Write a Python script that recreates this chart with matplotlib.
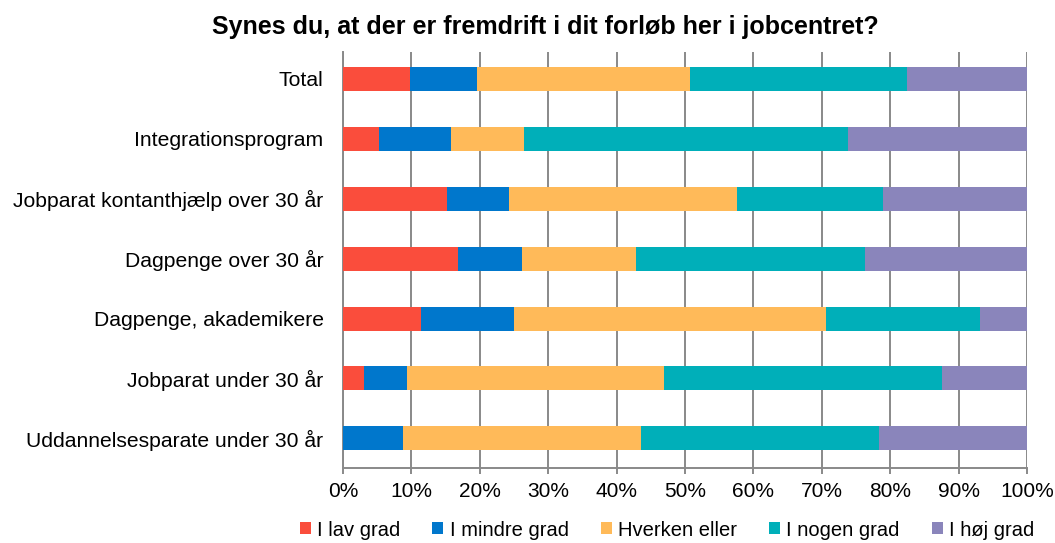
import matplotlib
matplotlib.use("Agg")
import matplotlib.pyplot as plt
from matplotlib.ticker import PercentFormatter
import numpy as np

plt.rcParams['font.family'] = ['Liberation Sans', 'DejaVu Sans']

title = "Synes du, at der er fremdrift i dit forløb her i jobcentret?"

groups = [
    "Total",
    "Integrationsprogram",
    "Jobparat kontanthjælp over 30 år",
    "Dagpenge over 30 år",
    "Dagpenge, akademikere",
    "Jobparat under 30 år",
    "Uddannelsesparate under 30 år",
]

answers = ["I lav grad", "I mindre grad", "Hverken eller", "I nogen grad", "I høj grad"]

# share of answers per group, in percent
lav_grad = [9.8, 5.3, 15.2, 16.8, 11.4, 3.1, 0.0]
mindre_grad = [9.8, 10.5, 9.1, 9.4, 13.6, 6.3, 8.7]
hverken = [31.2, 10.6, 33.3, 16.7, 45.6, 37.6, 34.9]
nogen_grad = [31.6, 47.4, 21.3, 33.4, 22.6, 40.5, 34.7]
hoej_grad = [17.6, 26.2, 21.1, 23.7, 6.8, 12.5, 21.7]

colors = ["#FA4D3C", "#0077CC", "#FFBA59", "#00AFB9", "#8A85BB"]

series = [lav_grad, mindre_grad, hverken, nogen_grad, hoej_grad]

fig = plt.figure(figsize=(10.55, 5.43), dpi=100)
ax = fig.add_axes([343 / 1055, 1 - 468.3 / 543, 684 / 1055, (468.3 - 52) / 543])

y = np.arange(len(groups))
left = np.zeros(len(groups))
for name, vals, col in zip(answers, series, colors):
    vals = np.array(vals)
    ax.barh(y, vals, left=left, height=0.4, color=col, label=name, zorder=3)
    left += vals

ax.set_xlim(0, 100)
ax.set_ylim(len(groups) - 0.5, -0.45)
ax.set_yticks(y)
ax.set_yticklabels(groups, fontsize=15.2)
ax.set_xticks(np.arange(0, 101, 10))
ax.xaxis.set_major_formatter(PercentFormatter(decimals=0))
ax.tick_params(axis='x', labelsize=15, length=4, width=1.4, color="#898989", pad=6)
ax.tick_params(axis='y', length=0, pad=14)

ax.grid(axis='x', color="#898989", linewidth=1.4, zorder=0)
ax.set_axisbelow(True)
for side in ['top', 'right']:
    ax.spines[side].set_visible(False)
for side in ['left', 'bottom']:
    ax.spines[side].set_color("#898989")
    ax.spines[side].set_linewidth(1.4)

fig.text(545 / 1055, 1 - 27 / 543, title, ha='center', va='center',
         fontsize=18, fontweight='bold')

ax.legend(loc='center', bbox_to_anchor=(667 / 1055, 1 - 530 / 543),
          bbox_transform=fig.transFigure, ncol=5, frameon=False, fontsize=14.5,
          handlelength=0.55, handleheight=0.55, handletextpad=0.3,
          columnspacing=1.6, borderaxespad=0)

fig.savefig("out.png", dpi=100)
